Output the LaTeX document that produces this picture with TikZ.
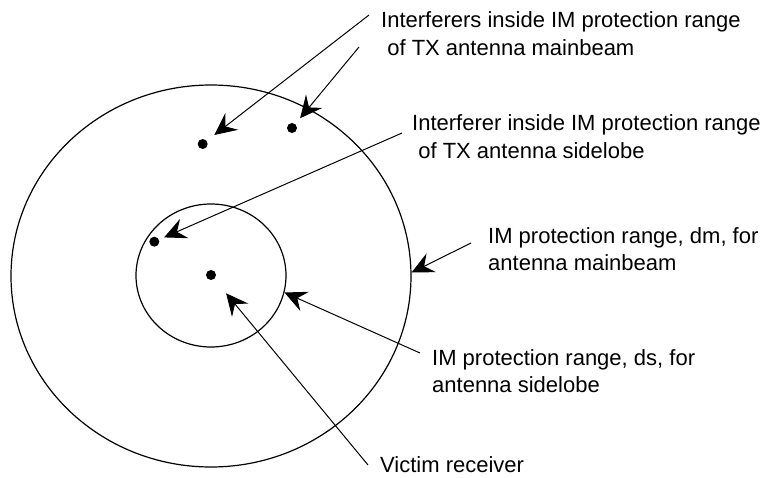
\documentclass[tikz,border=0pt]{standalone}
\usepackage{fontspec}
\setmainfont{Liberation Sans}
\usetikzlibrary{arrows.meta,shapes.geometric}
\begin{document}
\begin{tikzpicture}[x=1pt,y=-1pt,
  protring/.style={draw, ellipse, line width=1.2pt, inner sep=0pt},
  spot/.style={circle, fill, inner sep=0pt, minimum size=10pt},
  lbl/.style={anchor=base west, inner sep=0pt, font=\fontsize{22}{27}\selectfont},
  pointer/.style={line width=1pt, -{Stealth[length=22pt, width=21pt, inset=8pt]}},
]
\useasboundingbox (0,0) rectangle (769,477);

% protection ranges
\node[protring, minimum width=400pt, minimum height=382pt] (outer) at (211,276) {};
\node[protring, minimum width=150pt, minimum height=143pt] (inner) at (211,275.5) {};

% victim and interferers
\node[spot] (d1) at (202.7,144) {};
\node[spot] (d2) at (292,128) {};
\node[spot] (d3) at (154.3,241.7) {};
\node[spot] (rx) at (211,275) {};

% labels
\node[lbl] (l1a) at (381,27) {Interferers inside IM protection range};
\node[lbl] (l1b) at (381,55) {\ of TX antenna mainbeam};
\node[lbl] (l2a) at (412,130) {Interferer inside IM protection range};
\node[lbl] (l2b) at (412,158) {\ of TX antenna sidelobe};
\node[lbl] (l3a) at (488,243) {IM protection range, dm, for};
\node[lbl] (l3b) at (488,270) {antenna mainbeam};
\node[lbl] (l4a) at (432,365) {IM protection range, ds, for};
\node[lbl] (l4b) at (432,392) {antenna sidelobe};
\node[lbl] (l5)  at (380,472) {Victim receiver};

% free ends of the pointers
\coordinate (s1) at (369,15);
\coordinate (s2) at (359,47);
\coordinate (s3) at (402,133);
\coordinate (s4) at (471,243);
\coordinate (s5) at (420,353);
\coordinate (s6) at (368,465);

\draw[pointer, shorten >=9.5pt] (s1) -- (d1);
\draw[pointer, shorten >=7.5pt] (s2) -- (d2);
\draw[pointer, shorten >=5.5pt] (s3) -- (d3);
\draw[pointer] (s4) -- (outer.1);
\draw[pointer] (s5) -- (inner.-13);
\draw[pointer, shorten >=18.5pt] (s6) -- (rx);
\end{tikzpicture}
\end{document}
